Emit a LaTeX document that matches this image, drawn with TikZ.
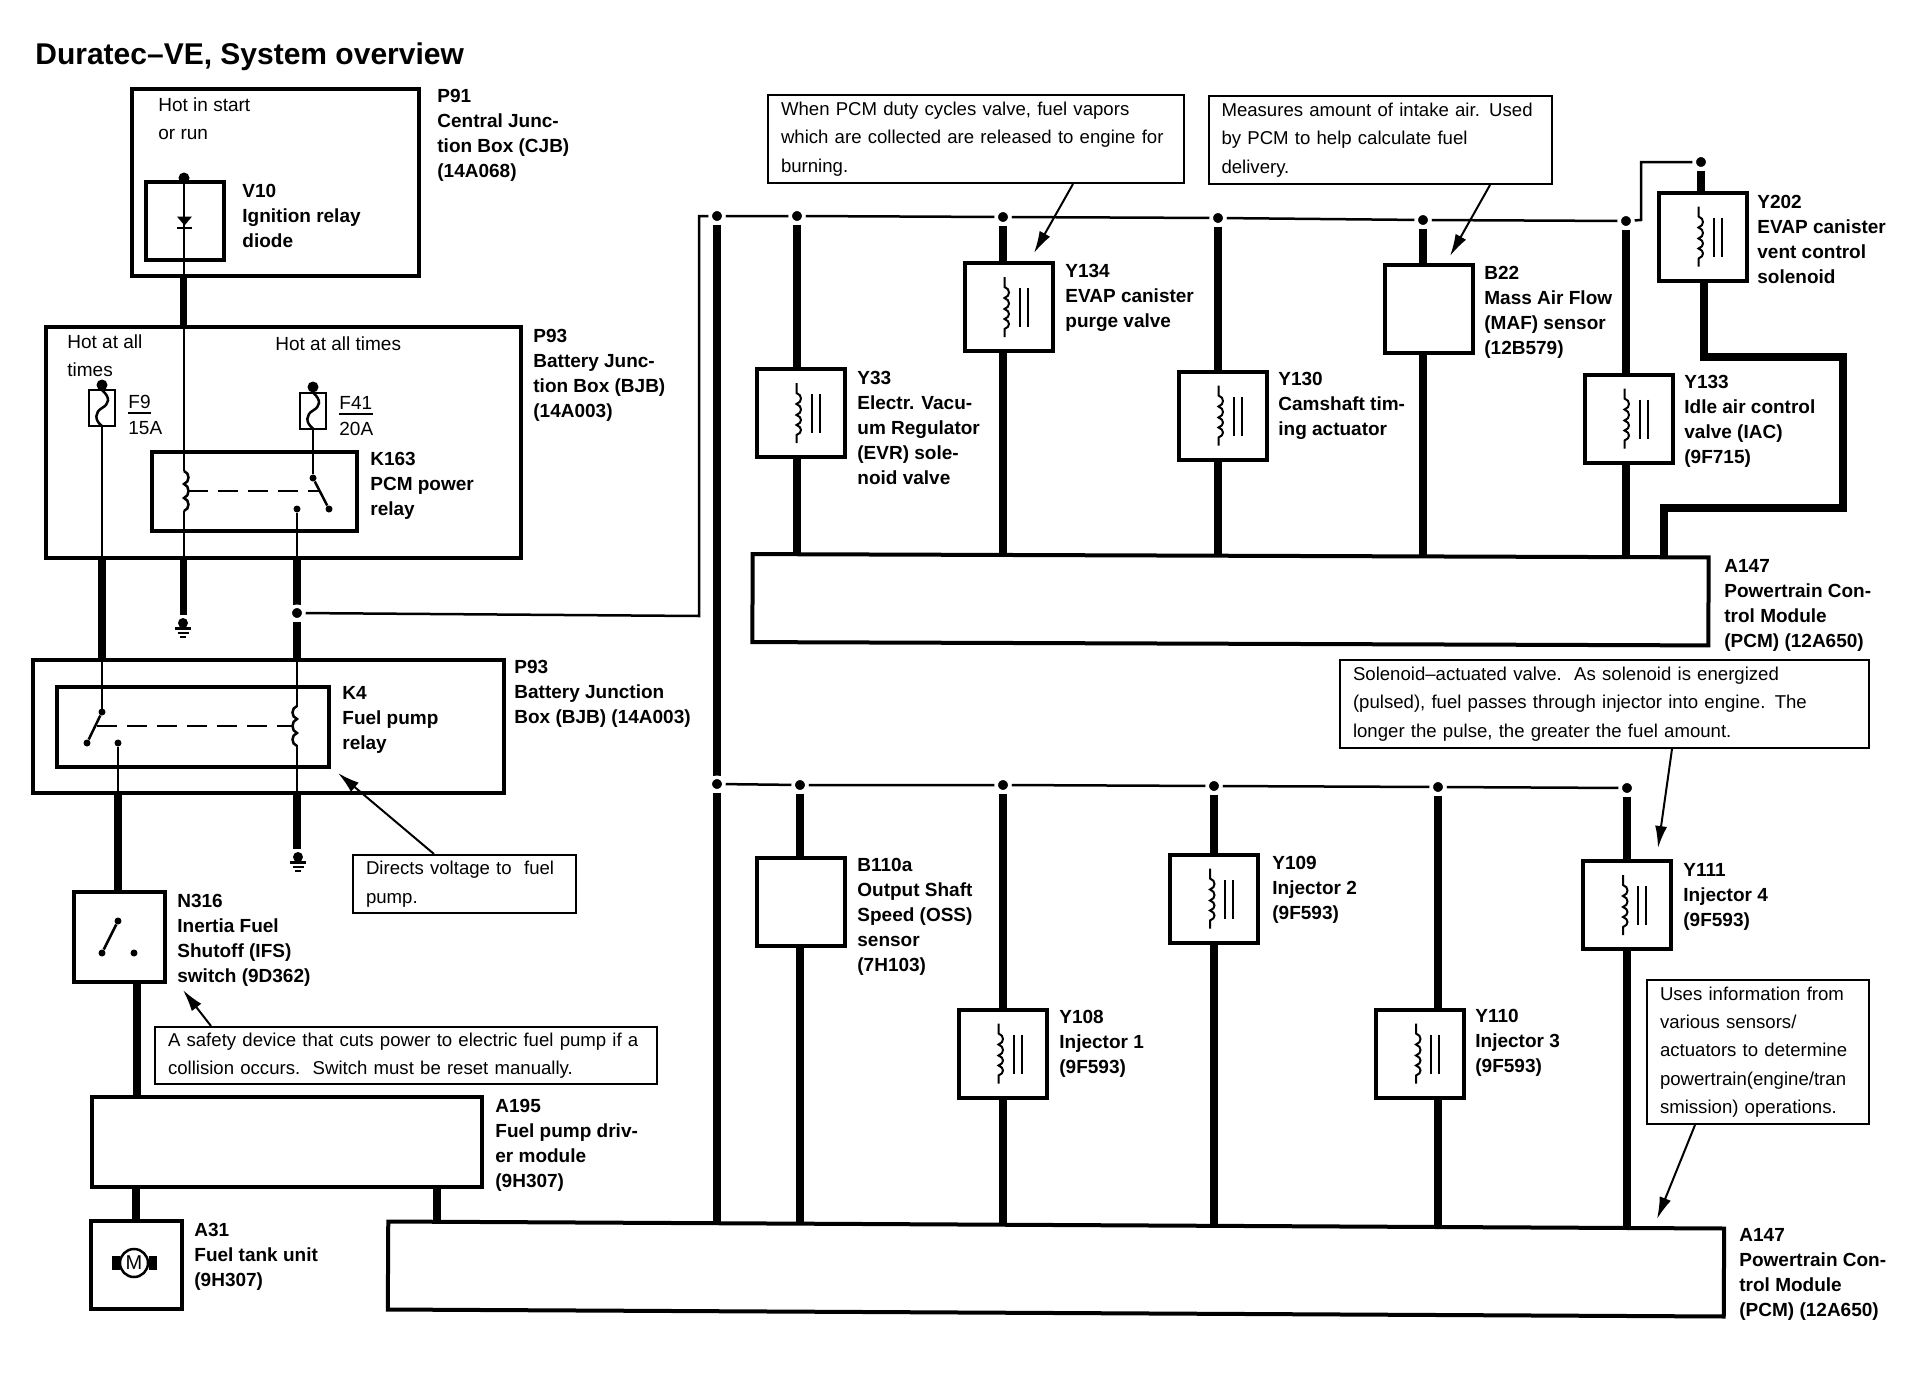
\documentclass[tikz,border=0pt]{standalone}
\usepackage{fontspec}
\setmainfont{Liberation Sans}
\usetikzlibrary{arrows.meta,backgrounds}
\tikzset{
  sized/.style 2 args={minimum width=#1,minimum height=#2,inner sep=0pt},
  framebox/.style 2 args={draw,line width=2pt,sized={#1}{#2}},
  compbox/.style={draw,line width=2pt,fill=white,sized={44pt}{44pt}},
  notebox/.style n args={3}{draw,line width=1pt,fill=white,minimum height=#3,inner ysep=0pt,inner xsep=6.5pt,
    text width=#2,align=left,font=\fontsize{9.3}{14.2}\selectfont},
  lbl/.style={anchor=north west,inner sep=0pt,align=left,font=\fontsize{9.5}{12.5}\selectfont\bfseries},
  txt/.style={anchor=north west,inner sep=0pt,align=left,font=\fontsize{9.5}{14.2}\selectfont},
  heavy/.style={line width=3.7pt},
  wire/.style={line width=1.25pt},
  fine/.style={line width=1pt},
  junct/.style={circle,fill=black,draw=white,line width=1.75pt,minimum size=6.75pt,inner sep=0pt},
  bigdot/.style={circle,fill=black,minimum size=5.5pt,inner sep=0pt},
  tinydot/.style={circle,fill=black,minimum size=3.5pt,inner sep=0pt},
  callout/.style={line width=1pt,-{Latex[length=11pt,width=6pt]}},
  linkage/.style={line width=1pt,dash pattern=on 10pt off 5pt},
  solenoidsym/.pic={
    \draw[fine] (-4,-30) -- (-4,-20) .. controls (2,-18) and (2,-11) .. (-4,-9) .. controls (2,-7) and (2,0) .. (-4,2)
      .. controls (2,4) and (2,10) .. (-4,12) .. controls (2,14) and (2,20) .. (-4,22) -- (-4,30);
    \draw[fine] (11,-19) -- (11,20);
    \draw[fine] (19,-19) -- (19,20);
  },
  relaycoil/.pic={
    \draw[wire] (0,-20) .. controls (6,-18) and (6,-9) .. (0,-7) .. controls (6,-5) and (6,5) .. (0,7) .. controls (6,9) and (6,18) .. (0,20);
  },
  fusewave/.pic={
    \draw[wire] (0,-18) .. controls (9,-10) and (7,-4) .. (0,0) .. controls (-7,4) and (-8,12) .. (0,18);
  },
  groundsym/.pic={
    \fill (0,0) circle (5);
    \draw[wire] (-8,5.5) -- (8,5.5);
    \draw[wire] (-5.5,10) -- (5.5,10);
    \draw[wire] (-3,14) -- (3,14);
  },
}
\begin{document}
\begin{tikzpicture}[x=0.5pt,y=-0.5pt]
  \useasboundingbox (0,0) rectangle (1912,1392);
  \node[anchor=north west,inner sep=0pt,font=\fontsize{15}{18}\selectfont\bfseries] (title) at (35,42) {Duratec--VE, System overview};

  \node[framebox={143.5pt}{93.5pt}] (P91) at (275.5,182.5) {};
  \node[framebox={39pt}{39pt}] (V10) at (185,221) {};
  \node[framebox={237.5pt}{115.5pt}] (P93a) at (283.5,442.5) {};
  \node[framebox={102.5pt}{39.5pt}] (K163) at (254.5,491.5) {};
  \node[framebox={235.5pt}{66.5pt}] (P93b) at (268.5,726.5) {};
  \node[framebox={136pt}{40pt}] (K4) at (193,727) {};
  \node[compbox,sized={45.5pt}{45pt}] (N316) at (119.5,937) {};
  \node[compbox,sized={195pt}{45pt}] (A195) at (287,1142) {};
  \node[compbox,sized={45.5pt}{44pt}] (A31) at (136.5,1265) {};
  \node[compbox,sized={478pt}{44pt},rotate=-0.2] (pcmup) at (1230.5,599.75) {};
  \node[compbox,sized={668pt}{44pt},rotate=-0.3] (pcmlow) at (1056,1269) {};

  \node[draw,line width=1pt,fill=white,sized={13pt}{18pt}] (F9) at (102,408) {};
  \node[draw,line width=1pt,fill=white,sized={13pt}{18pt}] (F41) at (313,410.5) {};
  \pic at (102,408) {fusewave};
  \pic at (313,410.5) {fusewave};

  \node[compbox] (Y33) at (800.5,413) {};
  \node[compbox] (Y134) at (1008.5,307) {};
  \node[compbox] (Y130) at (1222.5,415.5) {};
  \node[compbox] (B22) at (1428.5,309) {};
  \node[compbox] (Y133) at (1628.5,418.5) {};
  \node[compbox] (Y202) at (1702.5,236.5) {};
  \node[compbox] (B110a) at (800.5,901.5) {};
  \node[compbox] (Y108) at (1002.5,1053.5) {};
  \node[compbox] (Y109) at (1214,898.5) {};
  \node[compbox] (Y110) at (1420,1053.5) {};
  \node[compbox] (Y111) at (1627,905) {};
  \pic at (Y33) {solenoidsym};
  \pic at (Y134) {solenoidsym};
  \pic at (Y130) {solenoidsym};
  \pic at (Y133) {solenoidsym};
  \pic at (Y202) {solenoidsym};
  \pic at (Y108) {solenoidsym};
  \pic at (Y109) {solenoidsym};
  \pic at (Y110) {solenoidsym};
  \pic at (Y111) {solenoidsym};

  % junctions on the two rails
  \node[junct] (ub0) at (717,216) {};
  \node[junct] (ub1) at (797,216) {};
  \node[junct] (ub2) at (1003,217) {};
  \node[junct] (ub3) at (1218,218) {};
  \node[junct] (ub4) at (1423,220) {};
  \node[junct] (ub5) at (1626,221) {};
  \node[junct] (ub6) at (1701,162) {};
  \node[junct] (lb0) at (717,784) {};
  \node[junct] (lb1) at (800,785) {};
  \node[junct] (lb2) at (1003,785) {};
  \node[junct] (lb3) at (1214,786) {};
  \node[junct] (lb4) at (1438,787) {};
  \node[junct] (lb5) at (1627,788) {};
  \node[junct] (feed) at (297,613) {};

  \node[bigdot] (v10dot) at (184,178) {};
  \node[bigdot] (f9dot) at (102,385) {};
  \node[bigdot] (f41dot) at (313,387) {};
  \node[tinydot] (k163pivot) at (313,478) {};
  \node[tinydot] (k163arm) at (329,509) {};
  \node[tinydot] (k163con) at (297,509) {};
  \node[tinydot] (k4pivot) at (102,712) {};
  \node[tinydot] (k4arm) at (87,743) {};
  \node[tinydot] (k4con) at (118,743) {};
  \node[tinydot] (n316pivot) at (118,921) {};
  \node[tinydot] (n316arm) at (102,953) {};
  \node[tinydot] (n316con) at (134,953) {};

  \coordinate (k163top) at (184,471);
  \coordinate (k163bot) at (184,511);
  \coordinate (k4top) at (297,707);
  \coordinate (k4bot) at (297,745);
  \coordinate (gnd1) at (183,623);
  \coordinate (gnd2) at (298,857);
  \pic at (184,491) {relaycoil};
  \pic[xscale=-1] at (297,726) {relaycoil};
  \pic at (gnd1) {groundsym};
  \pic at (gnd2) {groundsym};

  % diode
  \fill (177,216.5) -- (192,216.5) -- (184.5,225.5) -- cycle;
  \draw[wire] (177,228) -- (192,228);

  \begin{scope}[on background layer]
    \draw[wire] (v10dot) -- (184,276);
    \draw[heavy] (183.5,276) -- (183.5,327);
    \draw[wire] (184,327) -- (k163top);
    \draw[wire] (k163bot) -- (184,558);
    \draw[heavy] (183.5,558) -- (183.5,615);

    \draw[wire] (f9dot) -- (102,712);
    \draw[heavy] (102,558) -- (102,660);
    \draw[wire] (f41dot) -- (k163pivot);
    \draw[wire] (k163con) -- (297,558);
    \draw[heavy] (297,558) -- (feed) -- (297,660);
    \draw[wire] (297,660) -- (k4top);
    \draw[wire] (k4bot) -- (297,793);
    \draw[heavy] (297,793) -- (297,849);
    \draw[wire] (k4con) -- (118,793);
    \draw[heavy] (118,793) -- (118,892);
    \draw[heavy] (137,982) -- (137,1097);
    \draw[heavy] (136,1187) -- (136,1221);
    \draw[heavy] (437,1187) -- (437,1269);

    \draw[wire] (feed) -- (699,616) -- (699,216) -- (ub0);
    \draw[wire] (ub0) -- (ub1) -- (ub2) -- (ub3) -- (ub4) -- (ub5) -- (1641,220) -- (1641,162) -- (ub6);
    \draw[wire] (lb0) -- (lb1) -- (lb2) -- (lb3) -- (lb4) -- (lb5);

    \draw[heavy] (ub0) -- (lb0) -- (lb0 |- pcmlow.center);

    \draw[heavy] (ub1) -- (ub1 |- Y33.north);
    \draw[heavy] (ub1 |- Y33.south) -- (ub1 |- pcmup.center);
    \draw[heavy] (ub2) -- (ub2 |- Y134.north);
    \draw[heavy] (ub2 |- Y134.south) -- (ub2 |- pcmup.center);
    \draw[heavy] (ub3) -- (ub3 |- Y130.north);
    \draw[heavy] (ub3 |- Y130.south) -- (ub3 |- pcmup.center);
    \draw[heavy] (ub4) -- (ub4 |- B22.north);
    \draw[heavy] (ub4 |- B22.south) -- (ub4 |- pcmup.center);
    \draw[heavy] (ub5) -- (ub5 |- Y133.north);
    \draw[heavy] (ub5 |- Y133.south) -- (ub5 |- pcmup.center);
    \draw[heavy] (ub6) -- (ub6 |- Y202.north);
    \draw[heavy,line width=4pt] (1704,281) -- (1704,357) -- (1843,357) -- (1843,508) -- (1664,508) -- (1664,600);

    \draw[heavy] (lb1) -- (lb1 |- B110a.north);
    \draw[heavy] (lb1 |- B110a.south) -- (lb1 |- pcmlow.center);
    \draw[heavy] (lb2) -- (lb2 |- Y108.north);
    \draw[heavy] (lb2 |- Y108.south) -- (lb2 |- pcmlow.center);
    \draw[heavy] (lb3) -- (lb3 |- Y109.north);
    \draw[heavy] (lb3 |- Y109.south) -- (lb3 |- pcmlow.center);
    \draw[heavy] (lb4) -- (lb4 |- Y110.north);
    \draw[heavy] (lb4 |- Y110.south) -- (lb4 |- pcmlow.center);
    \draw[heavy] (lb5) -- (lb5 |- Y111.north);
    \draw[heavy] (lb5 |- Y111.south) -- (lb5 |- pcmlow.center);
  \end{scope}

  % relay and switch contacts
  \draw[wire] (k163pivot) -- (k163arm);
  \draw[wire] (k4pivot) -- (k4arm);
  \draw[wire] (n316pivot) -- (n316arm);
  \draw[linkage] (188,491) -- (320,491);
  \draw[linkage] (97,726) -- (292,726);

  % motor
  \node[circle,draw,line width=1.25pt,fill=white,minimum size=14pt,inner sep=0pt,font=\fontsize{10}{12}\selectfont] (motor) at (134,1263) {M};
  \fill (112,1256) rectangle (120,1270);
  \fill (149,1256) rectangle (157,1270);

  % notes
  \node[notebox={}{195pt}{44pt}] (noteY134) at (976,139) {When PCM duty cycles valve, fuel vapors\\which are collected are released to engine for\\burning.};
  \node[notebox={}{158.5pt}{44pt}] (noteB22) at (1380,140) {Measures amount of intake air. Used\\by PCM to help calculate fuel\\delivery.};
  \node[notebox={}{251.5pt}{44pt}] (noteY111) at (1604.5,704) {Solenoid--actuated valve.\ \ As solenoid is energized\\(pulsed), fuel passes through injector into engine. The\\longer the pulse, the greater the fuel amount.};
  \node[notebox={}{98pt}{72pt}] (notePCM) at (1758,1052) {Uses information from\\various sensors/\\actuators to determine\\powertrain(engine/tran\\smission) operations.};
  \node[notebox={}{98.5pt}{29pt}] (noteK4) at (464.5,884) {Directs voltage to\ \ fuel\\pump.};
  \node[notebox={}{238pt}{28.5pt}] (noteN316) at (406,1055.5) {A safety device that cuts power to electric fuel pump if a\\collision occurs.\ \ Switch must be reset manually.};

  \coordinate (tipY134) at (1034,253);
  \coordinate (tipB22) at (1450,256);
  \coordinate (tipY111) at (1658,848);
  \coordinate (tipPCM) at (1657,1219);
  \coordinate (tipK4) at (338,773);
  \coordinate (tipN316) at (183,990);
  \draw[callout] ([xshift=48.5pt]noteY134.south) -- (tipY134);
  \draw[callout] ([xshift=55pt]noteB22.south) -- (tipB22);
  \draw[callout] ([xshift=33.75pt]noteY111.south) -- (tipY111);
  \draw[callout] ([xshift=-31.5pt]notePCM.south) -- (tipPCM);
  \draw[callout] ([xshift=-15.25pt]noteK4.north) -- (tipK4);
  \draw[callout] ([xshift=-97.5pt]noteN316.north) -- (tipN316);

  % plain texts
  \node[txt] (hot1) at (158,97) {Hot in start\\or run};
  \node[txt] (hot2) at (67,334) {Hot at all\\times};
  \node[txt] (hot3) at (275,336) {Hot at all times};
  \node[txt] (F9a) at (128,395) {F9};
  \node[txt] (F9b) at (128,421) {15A};
  \node[txt] (F41a) at (339,396) {F41};
  \node[txt] (F41b) at (339,422) {20A};
  \draw[fine] ([yshift=-2pt]F9a.south west) -- ([yshift=-2pt]F9a.south east);
  \draw[fine] ([yshift=-2pt]F41a.south west) -- ([yshift=-2pt]F41a.south east);

  % labels
  \node[lbl] (lblP91) at (437,89) {P91\\Central Junc-\\tion Box (CJB)\\(14A068)};
  \node[lbl] (lblV10) at (242,184) {V10\\Ignition relay\\diode};
  \node[lbl] (lblP93a) at (533,329) {P93\\Battery Junc-\\tion Box (BJB)\\(14A003)};
  \node[lbl] (lblK163) at (370,452) {K163\\PCM power\\relay};
  \node[lbl] (lblP93b) at (514,660) {P93\\Battery Junction\\Box (BJB) (14A003)};
  \node[lbl] (lblK4) at (342,686) {K4\\Fuel pump\\relay};
  \node[lbl] (lblN316) at (177,894) {N316\\Inertia Fuel\\Shutoff (IFS)\\switch (9D362)};
  \node[lbl] (lblA195) at (495,1099) {A195\\Fuel pump driv-\\er module\\(9H307)};
  \node[lbl] (lblA31) at (194,1223) {A31\\Fuel tank unit\\(9H307)};
  \node[lbl] (lblY33) at (857,371) {Y33\\Electr. Vacu-\\um Regulator\\(EVR) sole-\\noid valve};
  \node[lbl] (lblY134) at (1065,264) {Y134\\EVAP canister\\purge valve};
  \node[lbl] (lblY130) at (1278,372) {Y130\\Camshaft tim-\\ing actuator};
  \node[lbl] (lblB22) at (1484,266) {B22\\Mass Air Flow\\(MAF) sensor\\(12B579)};
  \node[lbl] (lblY133) at (1684,375) {Y133\\Idle air control\\valve (IAC)\\(9F715)};
  \node[lbl] (lblY202) at (1757,195) {Y202\\EVAP canister\\vent control\\solenoid};
  \node[lbl] (lblA147a) at (1724,559) {A147\\Powertrain Con-\\trol Module\\(PCM) (12A650)};
  \node[lbl] (lblB110a) at (857,858) {B110a\\Output Shaft\\Speed (OSS)\\sensor\\(7H103)};
  \node[lbl] (lblY108) at (1059,1010) {Y108\\Injector 1\\(9F593)};
  \node[lbl] (lblY109) at (1272,856) {Y109\\Injector 2\\(9F593)};
  \node[lbl] (lblY110) at (1475,1009) {Y110\\Injector 3\\(9F593)};
  \node[lbl] (lblY111) at (1683,863) {Y111\\Injector 4\\(9F593)};
  \node[lbl] (lblA147b) at (1739,1228) {A147\\Powertrain Con-\\trol Module\\(PCM) (12A650)};
\end{tikzpicture}
\end{document}
